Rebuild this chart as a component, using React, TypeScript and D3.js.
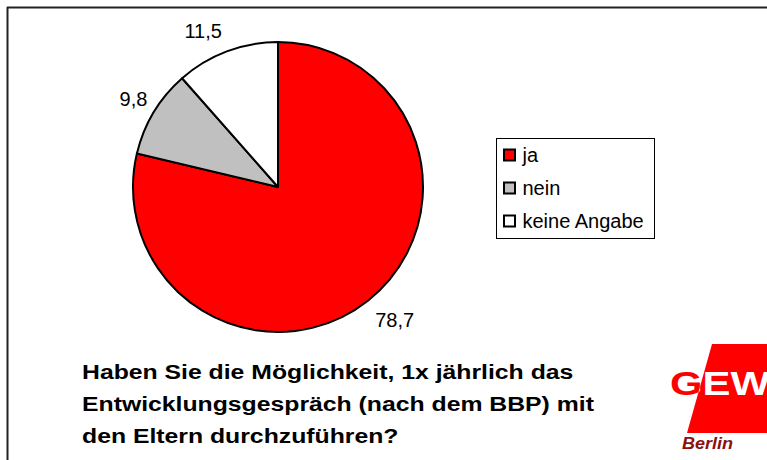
import React from "react";
import * as d3 from "d3";

const categories = ["ja", "nein", "keine Angabe"];
const values = [78.7, 9.8, 11.5];
const valueLabels = ["78,7", "9,8", "11,5"];
const colors = ["#FF0000", "#C0C0C0", "#FFFFFF"];
const titleLines = [
  "Haben Sie die Möglichkeit, 1x jährlich das",
  "Entwicklungsgespräch (nach dem BBP) mit",
  "den Eltern durchzuführen?",
];

const W = 767;
const H = 460;
const cx = 278;
const cy = 187;
const R = 145;
const labelR = 172;
const labelNudge = [
  [10, -2],
  [3, 0],
  [-14, 5],
];

export default function App() {
  const pie = d3
    .pie<number>()
    .sort(null)
    .value((d) => d)
    .startAngle(0)
    .endAngle(2 * Math.PI);
  const arcs = pie(values);
  const arcGen = d3.arc<d3.PieArcDatum<number>>().innerRadius(0).outerRadius(R);

  const font = "'Liberation Sans', Arial, sans-serif";

  const legendY = d3.scalePoint<string>().domain(categories).range([155, 221]);

  const band = "712,344 800,344 775,433 687,433";

  return (
    <svg
      width={W}
      height={H}
      style={{ position: "absolute", left: 0, top: 0, background: "#fff" }}
      fontFamily={font}
    >
      <rect x={0} y={0} width={W} height={H} fill="#fff" />
      {/* frame */}
      <line x1={7} y1={7.5} x2={W} y2={7.5} stroke="#222" strokeWidth={2} />
      <line x1={7.5} y1={7} x2={7.5} y2={H} stroke="#222" strokeWidth={2} />

      {/* pie */}
      <g transform={`translate(${cx},${cy})`}>
        {arcs.map((a, i) => (
          <path
            key={i}
            d={arcGen(a) || ""}
            fill={colors[i]}
            stroke="#000"
            strokeWidth={2}
            strokeLinejoin="round"
          />
        ))}
      </g>
      {arcs.map((a, i) => {
        const mid = (a.startAngle + a.endAngle) / 2;
        const x = cx + Math.sin(mid) * labelR + labelNudge[i][0];
        const y = cy - Math.cos(mid) * labelR + labelNudge[i][1];
        return (
          <text
            key={i}
            x={x}
            y={y}
            dy="0.36em"
            textAnchor="middle"
            fontSize={20}
            fill="#000"
          >
            {valueLabels[i]}
          </text>
        );
      })}

      {/* legend */}
      <rect x={496.5} y={138.5} width={158} height={100} fill="#fff" stroke="#000" strokeWidth={1} />
      {categories.map((c, i) => {
        const y = legendY(c) as number;
        return (
          <g key={c}>
            <rect
              x={504}
              y={y - 5.5}
              width={11}
              height={11}
              fill={colors[i]}
              stroke="#000"
              strokeWidth={2}
            />
            <text x={522.5} y={y + 7} fontSize={20} fill="#000">
              {c}
            </text>
          </g>
        );
      })}

      {/* title */}
      {titleLines.map((t, i) => (
        <text
          key={i}
          transform={`translate(82,${379 + i * 32}) scale(1.18,1)`}
          fontSize={21}
          fontWeight="bold"
          fill="#000"
        >
          {t}
        </text>
      ))}

      {/* logo */}
      <defs>
        <clipPath id="bandClip">
          <polygon points={band} />
        </clipPath>
      </defs>
      <polygon points={band} fill="#FF0000" />
      <text
        x={670}
        y={395}
        fontSize={33}
        fontWeight="bold"
        fill="#FF0000"
        textLength={100}
        lengthAdjust="spacingAndGlyphs"
      >
        GEW
      </text>
      <g clipPath="url(#bandClip)">
        <text
          x={670}
          y={395}
          fontSize={33}
          fontWeight="bold"
          fill="#FFFFFF"
          textLength={100}
          lengthAdjust="spacingAndGlyphs"
        >
          GEW
        </text>
      </g>
      <text
        x={682}
        y={449}
        fontSize={16}
        fontWeight="bold"
        fontStyle="italic"
        fill="#8B1010"
        textLength={51}
        lengthAdjust="spacingAndGlyphs"
      >
        Berlin
      </text>
    </svg>
  );
}
